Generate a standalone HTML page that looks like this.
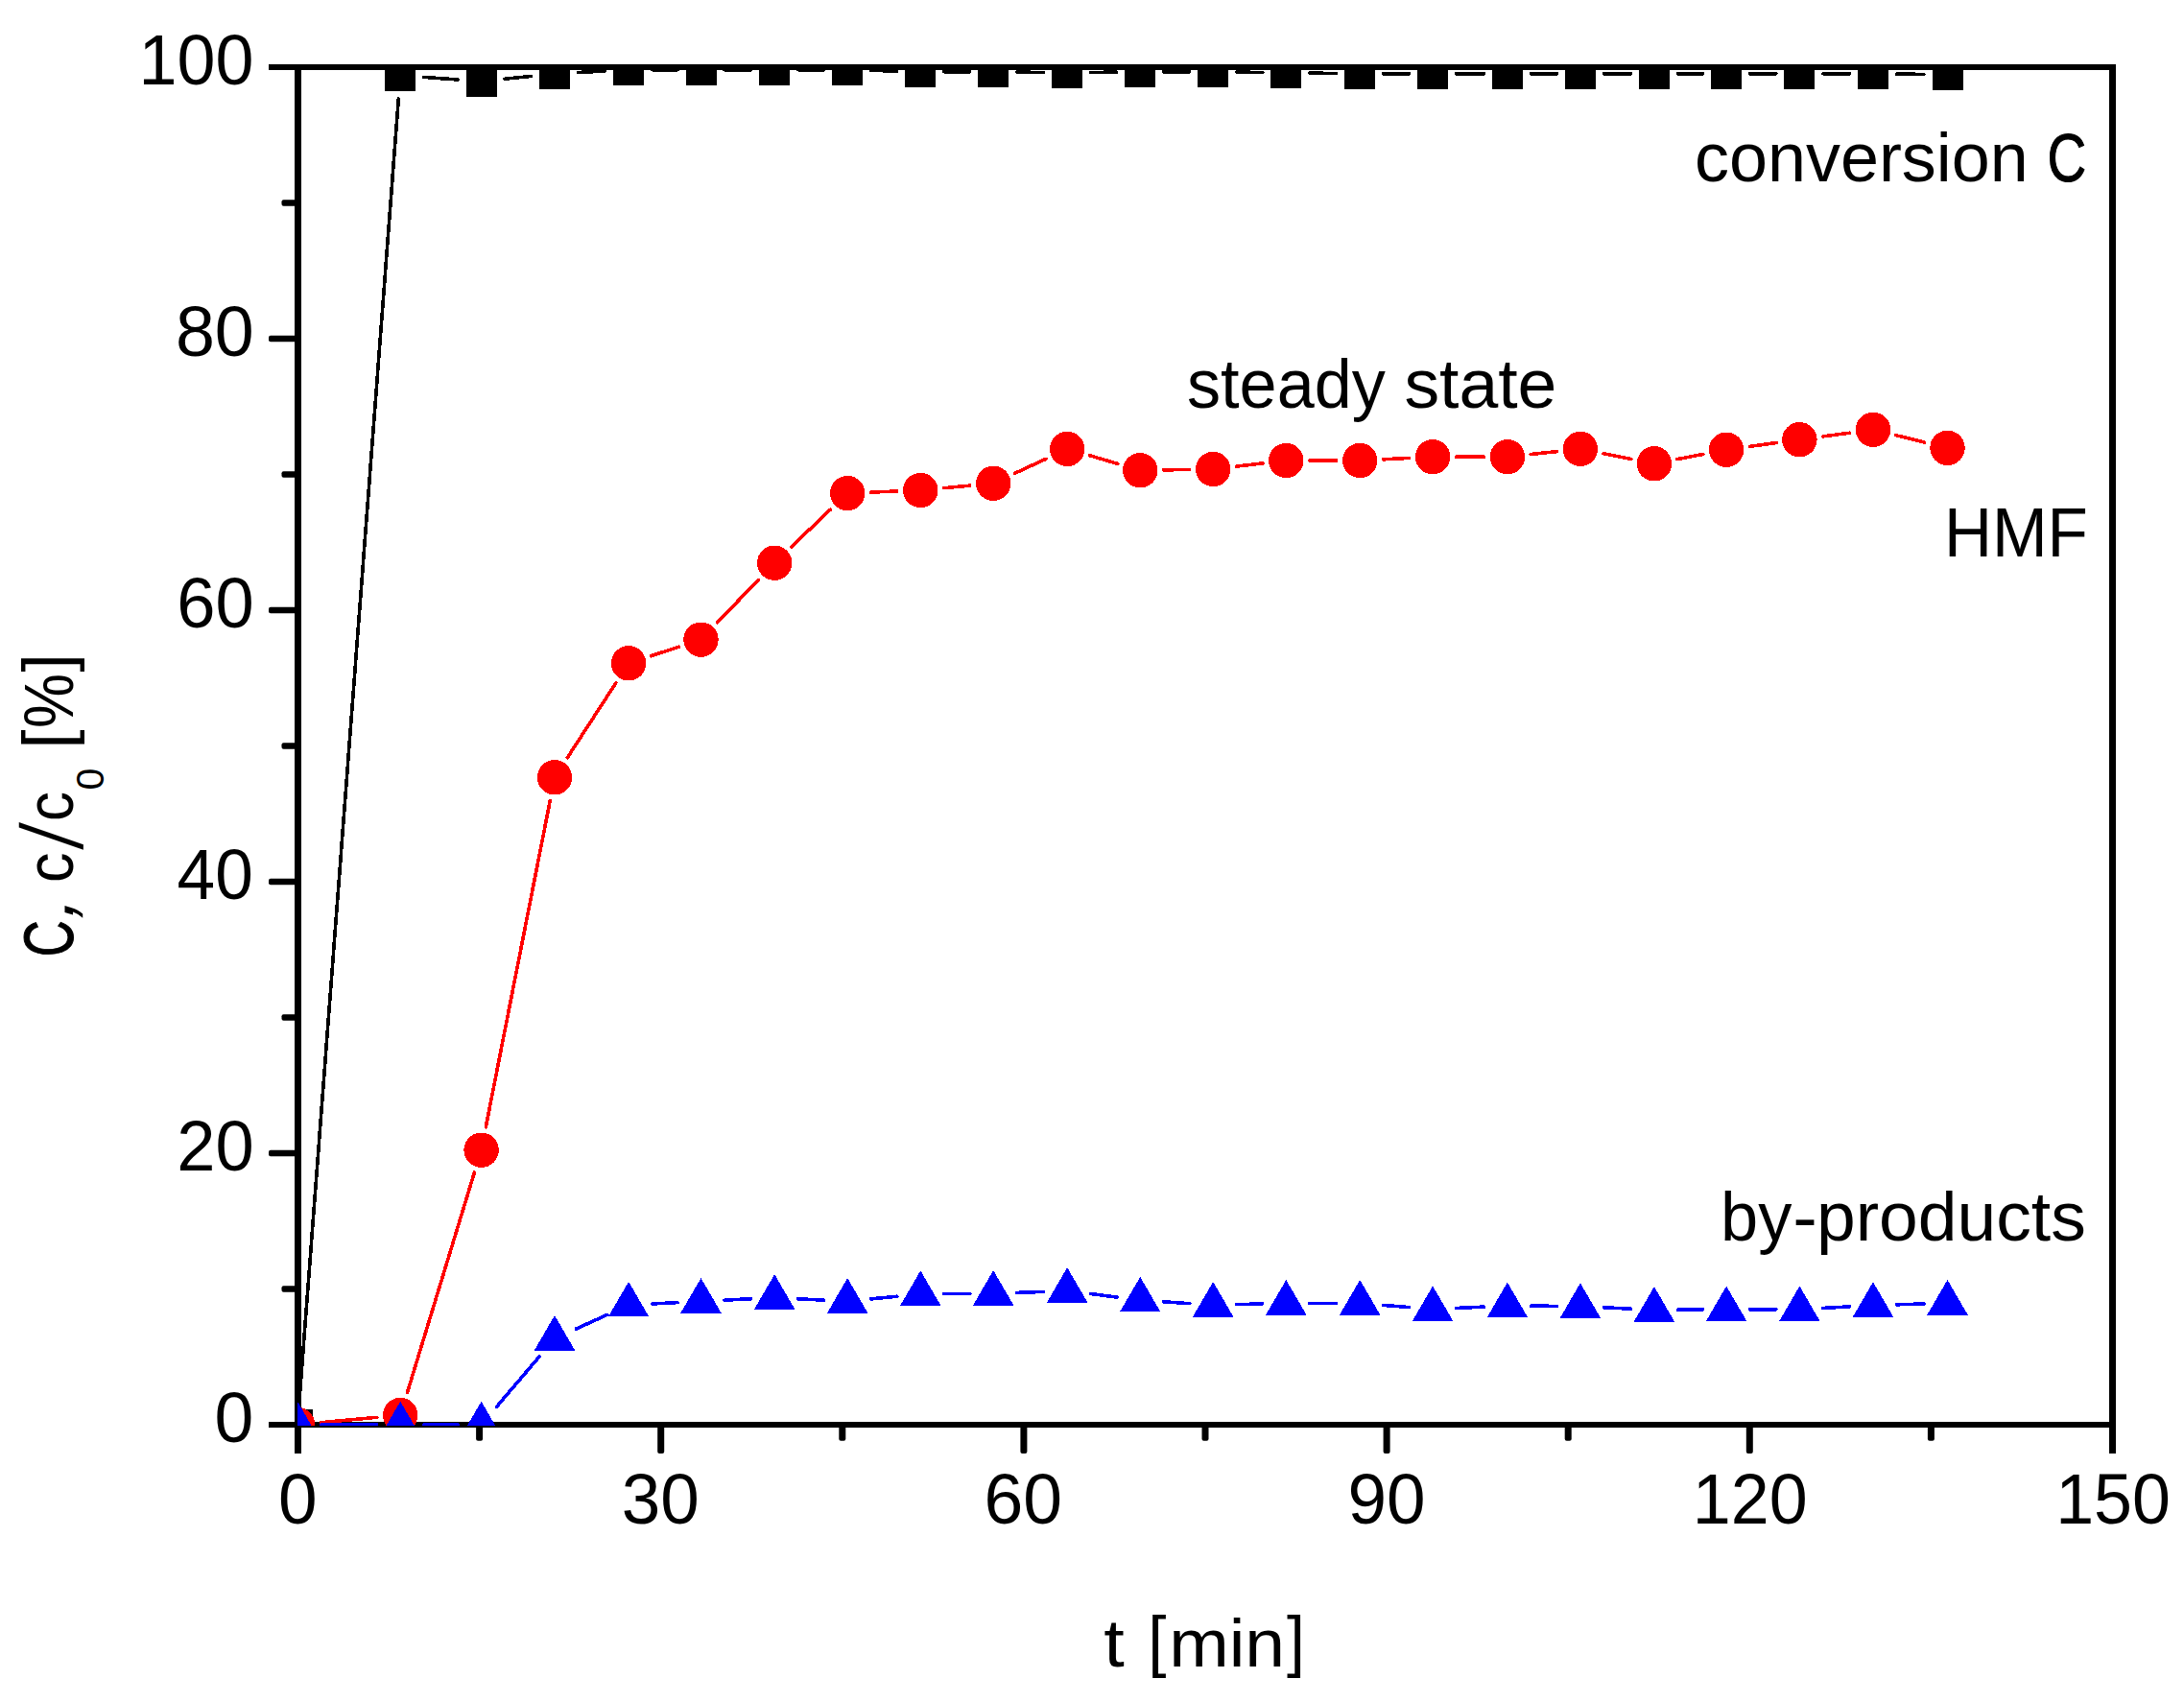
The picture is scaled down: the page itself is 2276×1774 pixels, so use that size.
<!DOCTYPE html>
<html lang="en"><head><meta charset="utf-8"><title>Conversion and yield over time</title>
<style>html,body{margin:0;padding:0;background:#fff}svg{display:block}text{font-family:"Liberation Sans",sans-serif;fill:#000}</style></head><body>
<svg width="2276" height="1774" viewBox="0 0 2276 1774">
<rect width="2276" height="1774" fill="#fff"/>
<defs><clipPath id="plot"><rect x="310" y="67" width="1892" height="1419"/></clipPath></defs>
<g fill="#000">
<rect x="280" y="67" width="1925" height="6"/>
<rect x="280" y="1482" width="1925" height="6"/>
<rect x="307" y="67" width="7" height="1448"/>
<rect x="2198" y="67" width="7" height="1448"/>
<rect x="293.5" y="1340.2" width="18" height="6.6" rx="2"/>
<rect x="280" y="1198.7" width="32" height="6.6" rx="2"/>
<rect x="293.5" y="1057.2" width="18" height="6.6" rx="2"/>
<rect x="280" y="915.7" width="32" height="6.6" rx="2"/>
<rect x="293.5" y="774.2" width="18" height="6.6" rx="2"/>
<rect x="280" y="632.7" width="32" height="6.6" rx="2"/>
<rect x="293.5" y="491.2" width="18" height="6.6" rx="2"/>
<rect x="280" y="349.7" width="32" height="6.6" rx="2"/>
<rect x="293.5" y="208.2" width="18" height="6.6" rx="2"/>
<rect x="496.1" y="1483" width="7" height="18.7" rx="2"/>
<rect x="685.2" y="1483" width="7" height="32" rx="2"/>
<rect x="874.3" y="1483" width="7" height="18.7" rx="2"/>
<rect x="1063.4" y="1483" width="7" height="32" rx="2"/>
<rect x="1252.5" y="1483" width="7" height="18.7" rx="2"/>
<rect x="1441.6" y="1483" width="7" height="32" rx="2"/>
<rect x="1630.7" y="1483" width="7" height="18.7" rx="2"/>
<rect x="1819.8" y="1483" width="7" height="32" rx="2"/>
<rect x="2008.9" y="1483" width="7" height="18.7" rx="2"/>
</g>
<g clip-path="url(#plot)" shape-rendering="crispEdges">
<path d="M311.9 1460.6L415.3 103.0M441.6 80.4L477.2 83.0M526.0 82.2L553.6 79.4M602.5 75.5L630.6 74.0M679.6 72.7L706.0 72.7M755.0 72.7L782.7 72.7M831.7 72.7L858.7 72.7M907.7 73.4L934.8 74.1M983.8 74.8L1010.7 74.8M1059.7 75.1L1087.7 75.5M1136.7 75.5L1163.7 75.1M1212.7 74.8L1239.7 74.8M1288.7 75.1L1315.8 75.5M1364.8 76.1L1392.7 76.5M1441.7 76.8L1468.6 76.8M1517.6 76.8L1546.4 76.8M1595.4 76.8L1622.4 76.8M1671.4 76.8L1699.4 76.8M1748.4 76.8L1774.6 76.8M1823.6 76.8L1850.9 76.8M1899.9 76.8L1927.5 76.8M1976.5 77.1L2005.0 77.4" fill="none" stroke="#000" stroke-width="3.6" stroke-linecap="round"/>
<g fill="#000"><rect x="294.0" y="1469.0" width="32" height="32"/><rect x="401.2" y="62.6" width="32" height="32"/><rect x="485.6" y="68.8" width="32" height="32"/><rect x="562.0" y="60.8" width="32" height="32"/><rect x="639.1" y="56.7" width="32" height="32"/><rect x="714.5" y="56.7" width="32" height="32"/><rect x="791.2" y="56.7" width="32" height="32"/><rect x="867.2" y="56.7" width="32" height="32"/><rect x="943.3" y="58.8" width="32" height="32"/><rect x="1019.2" y="58.8" width="32" height="32"/><rect x="1096.2" y="59.8" width="32" height="32"/><rect x="1172.2" y="58.8" width="32" height="32"/><rect x="1248.2" y="58.8" width="32" height="32"/><rect x="1324.3" y="59.8" width="32" height="32"/><rect x="1401.2" y="60.8" width="32" height="32"/><rect x="1477.1" y="60.8" width="32" height="32"/><rect x="1554.9" y="60.8" width="32" height="32"/><rect x="1630.9" y="60.8" width="32" height="32"/><rect x="1707.9" y="60.8" width="32" height="32"/><rect x="1783.1" y="60.8" width="32" height="32"/><rect x="1859.4" y="60.8" width="32" height="32"/><rect x="1936.0" y="60.8" width="32" height="32"/><rect x="2013.5" y="61.7" width="32" height="32"/></g>
<path d="M334.4 1482.7L392.8 1477.3M424.4 1451.6L494.4 1222.1M506.3 1174.7L573.3 834.3M591.3 789.7L641.8 711.9M678.4 683.7L707.2 674.3M747.5 649.0L790.2 604.4M824.9 569.8L865.5 531.0M907.7 513.1L934.8 512.0M983.7 508.7L1010.8 506.1M1057.4 493.4L1090.0 478.3M1135.7 474.8L1164.7 483.4M1212.7 489.9L1239.7 489.4M1288.5 486.1L1316.0 482.9M1364.8 480.0L1392.7 480.0M1441.7 478.8L1468.6 477.4M1517.6 476.2L1546.4 476.2M1595.3 473.5L1622.5 470.6M1670.9 472.7L1699.9 478.5M1748.0 478.6L1775.0 473.4M1823.4 465.4L1851.1 461.5M1899.7 454.9L1927.7 451.2M1975.8 453.7L2005.7 461.1" fill="none" stroke="#f00" stroke-width="3.6" stroke-linecap="round"/>
<g fill="#f00"><circle cx="310.0" cy="1485.0" r="18.2"/><circle cx="417.2" cy="1475.0" r="18.2"/><circle cx="501.6" cy="1198.7" r="18.2"/><circle cx="578.0" cy="810.3" r="18.2"/><circle cx="655.1" cy="691.3" r="18.2"/><circle cx="730.5" cy="666.7" r="18.2"/><circle cx="807.2" cy="586.7" r="18.2"/><circle cx="883.2" cy="514.1" r="18.2"/><circle cx="959.3" cy="511.0" r="18.2"/><circle cx="1035.2" cy="503.8" r="18.2"/><circle cx="1112.2" cy="467.9" r="18.2"/><circle cx="1188.2" cy="490.3" r="18.2"/><circle cx="1264.2" cy="489.0" r="18.2"/><circle cx="1340.3" cy="480.0" r="18.2"/><circle cx="1417.2" cy="480.0" r="18.2"/><circle cx="1493.1" cy="476.2" r="18.2"/><circle cx="1570.9" cy="476.2" r="18.2"/><circle cx="1646.9" cy="467.9" r="18.2"/><circle cx="1723.9" cy="483.3" r="18.2"/><circle cx="1799.1" cy="468.7" r="18.2"/><circle cx="1875.4" cy="458.2" r="18.2"/><circle cx="1952.0" cy="447.9" r="18.2"/><circle cx="2029.5" cy="466.9" r="18.2"/></g>
<path d="M334.5 1485.0L392.7 1485.0M441.7 1485.0L477.1 1485.0M517.5 1466.3L562.1 1414.0M600.3 1385.1L632.8 1370.4M679.6 1359.0L706.0 1357.6M755.0 1355.2L782.7 1353.7M831.7 1353.8L858.7 1355.1M907.6 1353.9L934.9 1351.2M983.8 1348.6L1010.7 1348.5M1059.7 1347.4L1087.7 1346.4M1136.5 1348.5L1163.9 1352.1M1212.6 1356.8L1239.8 1358.7M1288.7 1359.7L1315.8 1358.9M1364.8 1358.3L1392.7 1358.3M1441.6 1360.4L1468.7 1362.6M1517.6 1363.5L1546.4 1362.1M1595.4 1361.1L1622.4 1361.4M1671.4 1362.8L1699.4 1364.2M1748.4 1365.2L1774.6 1365.0M1823.6 1364.8L1850.9 1364.8M1899.9 1363.4L1927.5 1361.9M1976.5 1359.8L2005.0 1359.0" fill="none" stroke="#00f" stroke-width="3.6" stroke-linecap="round"/>
<g fill="#00f"><path d="M310.0 1460.7l21.2 36.5h-42.4z"/><path d="M417.2 1460.7l21.2 36.5h-42.4z"/><path d="M501.6 1460.7l21.2 36.5h-42.4z"/><path d="M578.0 1371.0l21.2 36.5h-42.4z"/><path d="M655.1 1335.9l21.2 36.5h-42.4z"/><path d="M730.5 1332.1l21.2 36.5h-42.4z"/><path d="M807.2 1328.2l21.2 36.5h-42.4z"/><path d="M883.2 1332.1l21.2 36.5h-42.4z"/><path d="M959.3 1324.4l21.2 36.5h-42.4z"/><path d="M1035.2 1324.1l21.2 36.5h-42.4z"/><path d="M1112.2 1321.1l21.2 36.5h-42.4z"/><path d="M1188.2 1330.9l21.2 36.5h-42.4z"/><path d="M1264.2 1336.0l21.2 36.5h-42.4z"/><path d="M1340.3 1334.0l21.2 36.5h-42.4z"/><path d="M1417.2 1334.0l21.2 36.5h-42.4z"/><path d="M1493.1 1340.4l21.2 36.5h-42.4z"/><path d="M1570.9 1336.6l21.2 36.5h-42.4z"/><path d="M1646.9 1337.3l21.2 36.5h-42.4z"/><path d="M1723.9 1341.1l21.2 36.5h-42.4z"/><path d="M1799.1 1340.5l21.2 36.5h-42.4z"/><path d="M1875.4 1340.5l21.2 36.5h-42.4z"/><path d="M1952.0 1336.2l21.2 36.5h-42.4z"/><path d="M2029.5 1334.0l21.2 36.5h-42.4z"/></g>
</g>
<g>
<text id="y100" x="144.6" y="88.3" font-size="74" textLength="119.9" lengthAdjust="spacingAndGlyphs">100</text>
<text id="y80" x="182.9" y="371.3" font-size="74" textLength="81.8" lengthAdjust="spacingAndGlyphs">80</text>
<text id="y60" x="184.2" y="654.3" font-size="74" textLength="80.4" lengthAdjust="spacingAndGlyphs">60</text>
<text id="y40" x="184.6" y="937.3" font-size="74" textLength="79.2" lengthAdjust="spacingAndGlyphs">40</text>
<text id="y20" x="184.2" y="1220.3" font-size="74" textLength="80.4" lengthAdjust="spacingAndGlyphs">20</text>
<text id="y0" x="223.4" y="1503.3" font-size="74" textLength="40.8" lengthAdjust="spacingAndGlyphs">0</text>
<text id="x0" x="290.1" y="1587.6" font-size="74" textLength="40.6" lengthAdjust="spacingAndGlyphs">0</text>
<text id="x30" x="647.8" y="1587.6" font-size="74" textLength="81.0" lengthAdjust="spacingAndGlyphs">30</text>
<text id="x60" x="1025.5" y="1587.6" font-size="74" textLength="81.5" lengthAdjust="spacingAndGlyphs">60</text>
<text id="x90" x="1404.4" y="1587.6" font-size="74" textLength="81.1" lengthAdjust="spacingAndGlyphs">90</text>
<text id="x120" x="1763.8" y="1587.6" font-size="74" textLength="119.8" lengthAdjust="spacingAndGlyphs">120</text>
<text id="x150" x="2142.2" y="1587.6" font-size="74" textLength="119.7" lengthAdjust="spacingAndGlyphs">150</text>
<text id="HMF" x="2025.9" y="579.8" font-size="72.7" textLength="150.0" lengthAdjust="spacingAndGlyphs">HMF</text>
<g><text id="conv_0" x="1766.0" y="189.0" font-size="71.5" textLength="347.8" lengthAdjust="spacingAndGlyphs">conversion </text><text id="conv_1" x="2133.6" y="189.0" font-size="70.5" textLength="40.7" lengthAdjust="spacingAndGlyphs" stroke="#000" stroke-width="1.0">C</text></g>
<g><text id="steady_0" x="1237.0" y="425.4" font-size="72" textLength="206.8" lengthAdjust="spacingAndGlyphs">steady </text><text id="steady_1" x="1463.4" y="425.4" font-size="72" textLength="159.0" lengthAdjust="spacingAndGlyphs">state</text></g>
<g><text id="byp_0" x="1793.1" y="1292.8" font-size="72.5" textLength="74.3" lengthAdjust="spacingAndGlyphs">by</text><text id="byp_1" x="1868.2" y="1292.8" font-size="72.5" textLength="25.6" lengthAdjust="spacingAndGlyphs">-</text><text id="byp_2" x="1893.0" y="1292.8" font-size="72.5" textLength="280.8" lengthAdjust="spacingAndGlyphs">products</text></g>
<g><text id="tmin_0" x="1150.3" y="1737.0" font-size="70" textLength="21.5" lengthAdjust="spacingAndGlyphs">t </text><text id="tmin_1" x="1196.2" y="1734.0" font-size="70" textLength="19.2" lengthAdjust="spacingAndGlyphs">[</text><text id="tmin_2" x="1218.2" y="1737.0" font-size="70" textLength="120.9" lengthAdjust="spacingAndGlyphs">min</text><text id="tmin_3" x="1340.9" y="1734.0" font-size="70" textLength="18.9" lengthAdjust="spacingAndGlyphs">]</text></g>
<g transform="translate(75.7 0.0) rotate(-90)"><g><text id="yt_C" x="-997.2" y="0.0" font-size="71.5" textLength="38.0" lengthAdjust="spacingAndGlyphs" stroke="#000" stroke-width="1.0">C</text><text id="yt_comma" transform="translate(-960.2 0.0) skewX(-17) scale(1 1.1)" font-size="72.5">, </text><text id="yt_c1" x="-920.0" y="0.0" font-size="71" textLength="31.5" lengthAdjust="spacingAndGlyphs">c</text><text id="yt_sl" transform="translate(-885.8 10.5) skewX(-7.5) scale(1 1.27)" font-size="72">/</text><text id="yt_c2" x="-855.9" y="0.0" font-size="71" textLength="31.0" lengthAdjust="spacingAndGlyphs">c</text><text id="yt_0" x="-823.5" y="32.4" font-size="41" textLength="23.0" lengthAdjust="spacingAndGlyphs">0 </text><text id="yt_lb" x="-780.7" y="-2.5" font-size="70.7" textLength="20.3" lengthAdjust="spacingAndGlyphs">[</text><text id="yt_pc" x="-758.9" y="0.0" font-size="72" textLength="57.0" lengthAdjust="spacingAndGlyphs">%</text><text id="yt_rb" x="-700.6" y="-2.5" font-size="70.7" textLength="19.1" lengthAdjust="spacingAndGlyphs">]</text></g></g>
</g>
</svg></body></html>
